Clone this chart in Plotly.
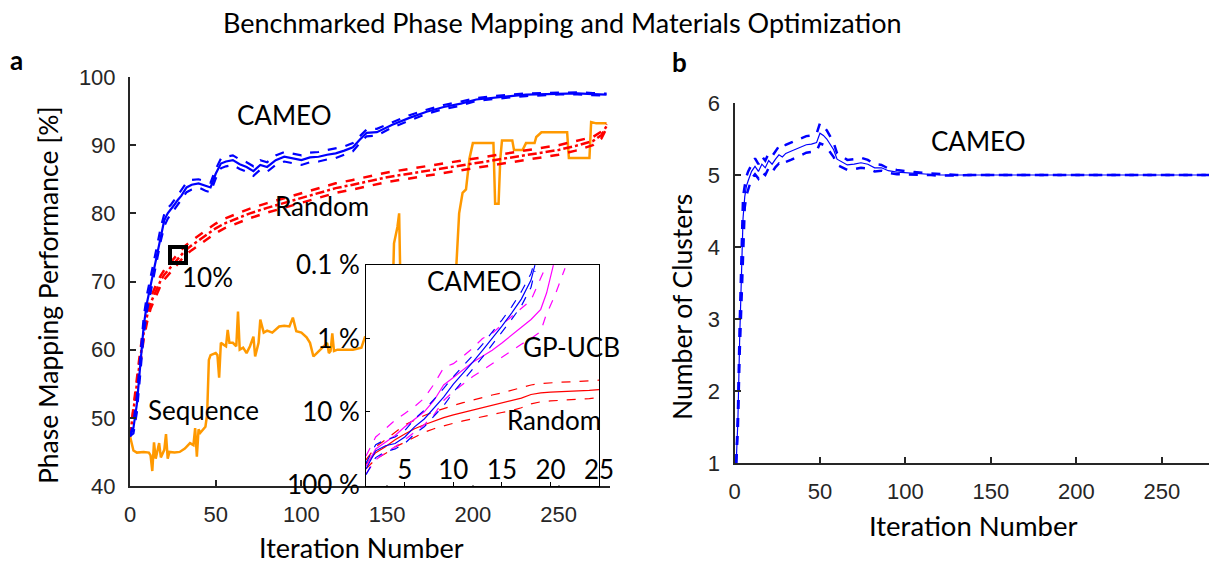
import plotly.graph_objects as go

W, H = 1209, 567

# ---------------- Panel a: main curves ----------------
cam_x = [0, 2, 4, 6, 8, 10, 12, 14, 16, 18, 20, 22, 24, 26, 28, 30, 33, 36, 40, 44, 47, 50, 53, 56, 60, 64, 68, 72, 76,
         80, 85, 90, 95, 100, 105, 110, 115, 120, 125, 130, 134, 138, 144, 153, 163, 173, 183, 193, 202, 212, 222, 231,
         241, 251, 261, 270, 278]
cam_mean = [47.3, 48.5, 52, 57.5, 63.5, 67, 69.5, 72, 74.5, 77, 79, 80, 80.6, 81.3, 82, 82.6, 83.8, 84.2, 84.4, 84.0,
            83.8, 85.8, 87.3, 87.6, 87.8, 87.2, 86.8, 86.2, 87.1, 86.8, 87.8, 88.3, 88.0, 87.8, 88.2, 88.3, 88.6, 88.8,
            89.2, 89.7, 90.8, 91.8, 91.9, 93.0, 94.0, 94.9, 95.6, 96.1, 96.7, 97.0, 97.2, 97.4, 97.5, 97.6, 97.6, 97.5,
            97.4]
cam_hi = [47.3, 49.3, 53.2, 58.8, 64.8, 68.2, 70.5, 73.0, 75.5, 78.0, 79.9, 80.8, 81.3, 82.0, 82.7, 83.3, 84.5, 84.9,
          85.0, 84.7, 84.5, 86.5, 88.0, 88.3, 88.5, 87.9, 87.5, 86.9, 87.8, 87.5, 88.5, 89.0, 88.7, 88.5, 88.9, 89.0,
          89.3, 89.5, 89.8, 90.3, 91.3, 92.3, 92.4, 93.4, 94.4, 95.2, 95.9, 96.4, 96.9, 97.2, 97.4, 97.6, 97.65, 97.75,
          97.75, 97.65, 97.55]
cam_lo = [47.3, 47.7, 50.8, 56.2, 62.2, 65.8, 68.5, 71.0, 73.5, 76.0, 78.1, 79.2, 79.9, 80.6, 81.3, 81.9, 83.1, 83.5,
          83.8, 83.3, 83.1, 85.1, 86.6, 86.9, 87.1, 86.5, 86.1, 85.5, 86.4, 86.1, 87.1, 87.6, 87.3, 87.1, 87.5, 87.6,
          87.9, 88.1, 88.6, 89.1, 90.3, 91.3, 91.4, 92.6, 93.6, 94.6, 95.3, 95.8, 96.5, 96.8, 97.0, 97.2, 97.35, 97.45,
          97.45, 97.35, 97.25]

rnd_x = [0, 2, 4, 6, 8, 10, 12, 14, 16, 18, 20, 24, 28, 32, 36, 40, 45, 50, 55, 60, 70, 80, 90, 100, 110, 120, 130,
         140, 150, 160, 170, 180, 190, 200, 210, 220, 230, 240, 250, 260, 270, 275, 278]
rnd_mean = [47.3, 51, 55, 59, 62.5, 65, 66.8, 68, 69.2, 70.2, 71, 72.2, 73.3, 74.5, 75.3, 76, 77, 77.8, 78.5, 79, 80,
            80.8, 81.5, 82.3, 83, 83.7, 84.2, 84.8, 85.3, 85.7, 86.1, 86.5, 86.9, 87.2, 87.6, 88, 88.4, 88.8, 89.3,
            89.9, 90.6, 91.5, 92.8]
rnd_hi = [47.3, 51.6, 55.8, 59.9, 63.4, 65.9, 67.6, 68.8, 70.0, 70.9, 71.7, 72.9, 74.0, 75.2, 76.0, 76.7, 77.7, 78.5,
          79.2, 79.7, 80.7, 81.5, 82.2, 83.0, 83.7, 84.4, 84.9, 85.5, 86.0, 86.4, 86.8, 87.2, 87.6, 87.9, 88.3, 88.7,
          89.1, 89.5, 90.0, 90.6, 91.2, 92.0, 93.1]
rnd_lo = [47.3, 50.4, 54.2, 58.1, 61.6, 64.1, 66.0, 67.2, 68.4, 69.5, 70.3, 71.5, 72.6, 73.8, 74.6, 75.3, 76.3, 77.1,
          77.8, 78.3, 79.3, 80.1, 80.8, 81.6, 82.3, 83.0, 83.5, 84.1, 84.6, 85.0, 85.4, 85.8, 86.2, 86.5, 86.9, 87.3,
          87.7, 88.1, 88.6, 89.2, 90.0, 91.0, 92.5]

seq_x = [0, 2, 4, 8, 11, 12, 13, 14, 15, 17, 18, 20, 21, 22, 23, 26, 29, 32, 35, 37, 38, 39, 40, 41, 44, 45, 46, 47,
         50, 51, 52, 53, 56, 57, 58, 60, 62, 63, 64, 66, 68, 70, 72, 73, 75, 76, 78, 80, 83, 85, 87, 90, 93, 95, 97,
         100, 103, 105, 107, 109, 111, 113, 115, 116, 117, 118, 119, 121, 125, 130, 135, 137, 140, 145, 150, 153, 154,
         156, 157, 158, 160, 170, 180, 186, 188, 190, 192, 194, 196, 198, 200, 212, 213, 215, 216, 217, 223, 224, 229,
         231, 236, 237, 240, 255, 256, 268, 269, 272, 278]
seq_y = [47.3, 45.2, 44.9, 45.0, 44.9, 44.5, 42.2, 46.4, 44.0, 46.3, 44.2, 45.3, 47.6, 44.0, 45.0, 44.9, 45.0, 45.5,
         46.3, 46.0, 48.5, 44.3, 48.3, 47.8, 48.7, 50.5, 58.5, 59.2, 59.5, 59.2, 55.9, 61.0, 60.5, 62.9, 61.0, 61.0,
         60.5, 65.6, 60.0, 60.3, 59.5, 60.5, 61.9, 59.0, 61.0, 64.4, 62.5, 62.8, 62.5, 63.0, 63.4, 63.5, 63.4, 64.7,
         62.7, 62.5, 61.8, 61.0, 59.0, 59.5, 60.0, 60.5, 61.0, 59.5, 59.8, 62.4, 59.8, 60.0, 60.0, 60.0, 60.3, 61.8,
         62.0, 63.0, 64.0, 66.0, 75.6, 78.0, 80.0, 66.0, 63.0, 63.0, 64.0, 65.0, 67.7, 70.6, 80.0, 83.0, 83.5, 88.0,
         90.3, 90.3, 81.4, 81.4, 88.0, 90.7, 90.7, 89.3, 89.3, 90.3, 90.3, 91.2, 91.9, 91.9, 88.1, 88.1, 93.4, 93.2,
         93.2]

mark_x = [28]
mark_y = [73.9]

# ---------------- Panel a: inset ----------------
ins_cam_x = [1, 2, 3, 4, 5, 6, 7, 8, 9, 10, 11, 12, 13, 14, 15, 16, 17, 18, 18.4]
ins_cam = [60, 34, 29, 27, 22, 16, 12.5, 9, 6.3, 4.2, 3.0, 2.1, 1.45, 1.0, 0.68, 0.45, 0.29, 0.16, 0.1]
ins_cam_hi = [50, 28, 24, 22, 18, 12.5, 9.5, 6.8, 4.8, 3.3, 2.4, 1.7, 1.2, 0.83, 0.56, 0.37, 0.23, 0.13, 0.085]
ins_cam_lo = [72, 42, 35, 32, 27, 20, 16, 11.5, 8.2, 5.4, 3.8, 2.6, 1.8, 1.22, 0.83, 0.55, 0.36, 0.2, 0.12]

gp_x = [1, 2, 3, 4, 5, 6, 7, 8, 9, 10, 11, 12, 13, 14, 15, 16, 17, 18, 19, 19.6, 20.3]
gp = [55, 32, 26, 21, 16, 12.5, 10, 7, 4.3, 3.4, 2.7, 2.1, 1.75, 1.45, 1.15, 0.9, 0.7, 0.55, 0.4, 0.24, 0.1]
gp_hi = [40, 22, 17, 13, 10.5, 8.5, 6.5, 4.2, 2.5, 2.2, 1.75, 1.35, 1.0, 0.85, 0.65, 0.5, 0.38, 0.3, 0.15, 0.1, 0.07]
gp_lo_x = [1, 2, 3, 4, 5, 6, 7, 8, 9, 10, 11, 12, 13, 14, 15, 16, 17, 18, 19, 19.5, 20.5, 21.5]
gp_lo = [70, 45, 36, 30, 24, 19, 15, 11, 7, 5.3, 4.2, 3.3, 2.7, 2.2, 1.8, 1.5, 1.2, 1.0, 0.8, 0.5, 0.25, 0.11]

ins_rnd_x = list(range(1, 26))
ins_rnd = [52, 36, 30, 24, 20, 17, 15, 13.3, 12, 11, 10.2, 9.4, 8.7, 8.2, 7.6, 7.1, 6.5, 5.8, 5.5, 5.4, 5.35, 5.3,
           5.2, 5.1, 4.97]
ins_rnd_hi = [45, 30, 24, 19, 15, 13, 11.2, 10, 9, 8.2, 7.5, 6.9, 6.3, 5.9, 5.5, 5.1, 4.7, 4.3, 4.1, 4.0, 3.95, 3.9,
              3.85, 3.8, 3.7]
ins_rnd_lo = [60, 44, 37, 30, 26, 22, 19, 17, 15.5, 14.3, 13.3, 12.4, 11.5, 10.8, 10.2, 9.6, 8.8, 7.8, 7.3, 7.1, 7.0,
              6.9, 6.7, 6.6, 6.4]

ins_yticks = [0.1, 1, 10, 100]
ins_ytext = ["0.1 %", "1 %", "10 %", "100 %"]

# ---------------- Panel b ----------------
cl_x = [1, 2, 3, 4, 5, 6, 7, 8, 10, 12, 14, 16, 18, 20, 22, 24, 26, 28, 30, 33, 36, 39, 42, 45, 48, 50, 52, 54, 56,
        58, 60, 63, 66, 70, 74, 78, 82, 86, 90, 95, 100, 105, 110, 115, 120, 130, 140, 150, 278]
cl_mean = [1.0, 1.6, 2.7, 3.6, 4.4, 4.7, 4.85, 4.92, 5.05, 5.12, 5.05, 5.15, 5.1, 5.2, 5.15, 5.22, 5.28, 5.25, 5.3,
           5.33, 5.36, 5.4, 5.42, 5.43, 5.45, 5.58, 5.55, 5.5, 5.42, 5.35, 5.22, 5.18, 5.14, 5.15, 5.17, 5.15, 5.1,
           5.1, 5.06, 5.04, 5.03, 5.02, 5.02, 5.01, 5.0, 5.0, 5.0, 5.0, 5.0]
cl_hi = [1.0, 1.7, 2.9, 3.9, 4.7, 4.85, 4.98, 5.05, 5.15, 5.23, 5.15, 5.26, 5.2, 5.3, 5.26, 5.33, 5.4, 5.37, 5.42,
         5.45, 5.48, 5.52, 5.54, 5.55, 5.57, 5.72, 5.68, 5.62, 5.53, 5.45, 5.3, 5.26, 5.21, 5.22, 5.24, 5.21, 5.15,
         5.14, 5.09, 5.07, 5.05, 5.04, 5.03, 5.02, 5.01, 5.0, 5.0, 5.0, 5.0]
cl_lo = [1.0, 1.5, 2.5, 3.3, 4.1, 4.55, 4.72, 4.8, 4.95, 5.01, 4.95, 5.04, 5.0, 5.1, 5.04, 5.11, 5.16, 5.13, 5.18,
         5.21, 5.24, 5.28, 5.31, 5.32, 5.33, 5.44, 5.42, 5.38, 5.31, 5.25, 5.14, 5.1, 5.07, 5.08, 5.1, 5.09, 5.05,
         5.06, 5.03, 5.01, 5.01, 5.0, 5.01, 5.0, 4.99, 5.0, 5.0, 5.0, 5.0]

BLUE, RED, MAG, ORANGE = "#0000FF", "#FF0000", "#FF00FF", "#FF9900"
TXT = "Lato"
TICKF = dict(family="Liberation Sans, Arial", size=22, color="#262626")

fig = go.Figure()


def line(x, y, color, dash, width, xa="x", ya="y"):
    fig.add_trace(go.Scatter(x=x, y=y, mode="lines", xaxis=xa, yaxis=ya, hoverinfo="skip",
                             line=dict(color=color, dash=dash, width=width)))


# panel a main
line(seq_x, seq_y, ORANGE, "solid", 2.5)
line(rnd_x, rnd_hi, RED, "dash", 2.5)
line(rnd_x, rnd_lo, RED, "dash", 2.5)
line(rnd_x, rnd_mean, RED, "dashdot", 2.5)
line(cam_x, cam_hi, BLUE, "dash", 2.2)
line(cam_x, cam_lo, BLUE, "dash", 2.2)
line(cam_x, cam_mean, BLUE, "solid", 2.2)
fig.add_trace(go.Scatter(x=mark_x, y=mark_y, mode="markers", xaxis="x", yaxis="y", hoverinfo="skip",
                         marker=dict(symbol="square-open", size=16, color="black",
                                     line=dict(width=4, color="black"))))

# panel b
line(cl_x, cl_hi, BLUE, "dash", 2.5, "x2", "y2")
line(cl_x, cl_lo, BLUE, "dash", 2.5, "x2", "y2")
line(cl_x, cl_mean, BLUE, "solid", 1.2, "x2", "y2")

# inset
line(ins_rnd_x, ins_rnd_hi, RED, "dash", 1.2, "x3", "y3")
line(ins_rnd_x, ins_rnd_lo, RED, "dash", 1.2, "x3", "y3")
line(ins_rnd_x, ins_rnd, RED, "solid", 1.2, "x3", "y3")
line(gp_x, gp_hi, MAG, "dash", 1.2, "x3", "y3")
line(gp_lo_x, gp_lo, MAG, "dash", 1.2, "x3", "y3")
line(gp_x, gp, MAG, "solid", 1.2, "x3", "y3")
line(ins_cam_x, ins_cam_hi, BLUE, "dash", 1.2, "x3", "y3")
line(ins_cam_x, ins_cam_lo, BLUE, "dash", 1.2, "x3", "y3")
line(ins_cam_x, ins_cam, BLUE, "solid", 1.2, "x3", "y3")


def px(v):
    return v / W


def py(v):
    return 1 - v / H


main_ax = dict(showline=True, linecolor="#262626", linewidth=2, ticks="inside", ticklen=6, tickwidth=1.5,
               tickcolor="#262626", showgrid=False, zeroline=False, tickfont=TICKF, mirror=False,
               automargin=False)

fig.update_layout(
    width=W, height=H, margin=dict(l=0, r=0, t=0, b=0, pad=0, autoexpand=False),
    paper_bgcolor="white", plot_bgcolor="white", showlegend=False,
    xaxis=dict(main_ax, domain=[px(130), px(610)], range=[0, 280], tickvals=[0, 50, 100, 150, 200, 250],
               anchor="y", ticklabelstandoff=8),
    yaxis=dict(main_ax, domain=[py(486), py(77)], range=[40, 100], tickvals=[40, 50, 60, 70, 80, 90, 100],
               anchor="x", ticklabelstandoff=8),
    xaxis2=dict(main_ax, domain=[px(734.5), 1.0], range=[0, 277.6], tickvals=[0, 50, 100, 150, 200, 250],
                anchor="y2", ticklabelstandoff=8),
    yaxis2=dict(main_ax, domain=[py(463), py(103)], range=[1, 6], tickvals=[1, 2, 3, 4, 5, 6],
                anchor="x2", ticklabelstandoff=8),
    xaxis3=dict(domain=[px(366), px(599)], range=[1, 25], tickvals=[5, 10, 15, 20, 25], anchor="y3",
                showline=True, mirror=True, linecolor="black", linewidth=1, ticks="inside", ticklen=4,
                tickcolor="black", showgrid=False, zeroline=False, ticklabelposition="inside",
                ticklabeloverflow="allow", automargin=False,
                tickfont=dict(family=TXT, size=26, color="black")),
    yaxis3=dict(domain=[py(485.5), py(265)], type="log", range=[2.004, -1.002], tickvals=ins_yticks,
                ticktext=ins_ytext, anchor="x3", showline=True, mirror=True, linecolor="black", linewidth=1,
                ticks="inside", ticklen=4, tickcolor="black", showgrid=False, zeroline=False, automargin=False,
                tickfont=dict(family=TXT, size=26, color="black")),
)


def ann(text, x, y, size=26, angle=0, bold=False, yanchor="middle"):
    fig.add_annotation(text=f"<b>{text}</b>" if bold else text, x=px(x), y=py(y), xref="paper", yref="paper",
                       xanchor="center", yanchor=yanchor, showarrow=False, textangle=angle,
                       font=dict(family=TXT, size=size, color="black"))


ann("Benchmarked Phase Mapping and Materials Optimization", 562, 22, size=27)
ann("a", 16, 60, size=26, bold=True)
ann("b", 679, 62, size=26, bold=True)
ann("Phase Mapping Performance [%]", 48, 295, size=26.5, angle=-90)
ann("Iteration Number", 361, 566, size=27, yanchor="bottom")
ann("Number of Clusters", 682, 307, size=26.5, angle=-90)
ann("Iteration Number", 973, 525, size=27.5)
ann("CAMEO", 284, 115)
ann("Random", 322, 206)
ann("10%", 207, 277)
ann("Sequence", 203, 410)
ann("CAMEO", 474, 281)
ann("GP-UCB", 571, 347)
ann("Random", 554, 420)
ann("CAMEO", 978, 141)

fig.write_html(
    "out.html",
    config={"displayModeBar": False},
    post_script="document.documentElement.style.margin='0';document.body.style.margin='0';"
                "document.body.style.padding='0';document.body.style.overflow='hidden';",
)
